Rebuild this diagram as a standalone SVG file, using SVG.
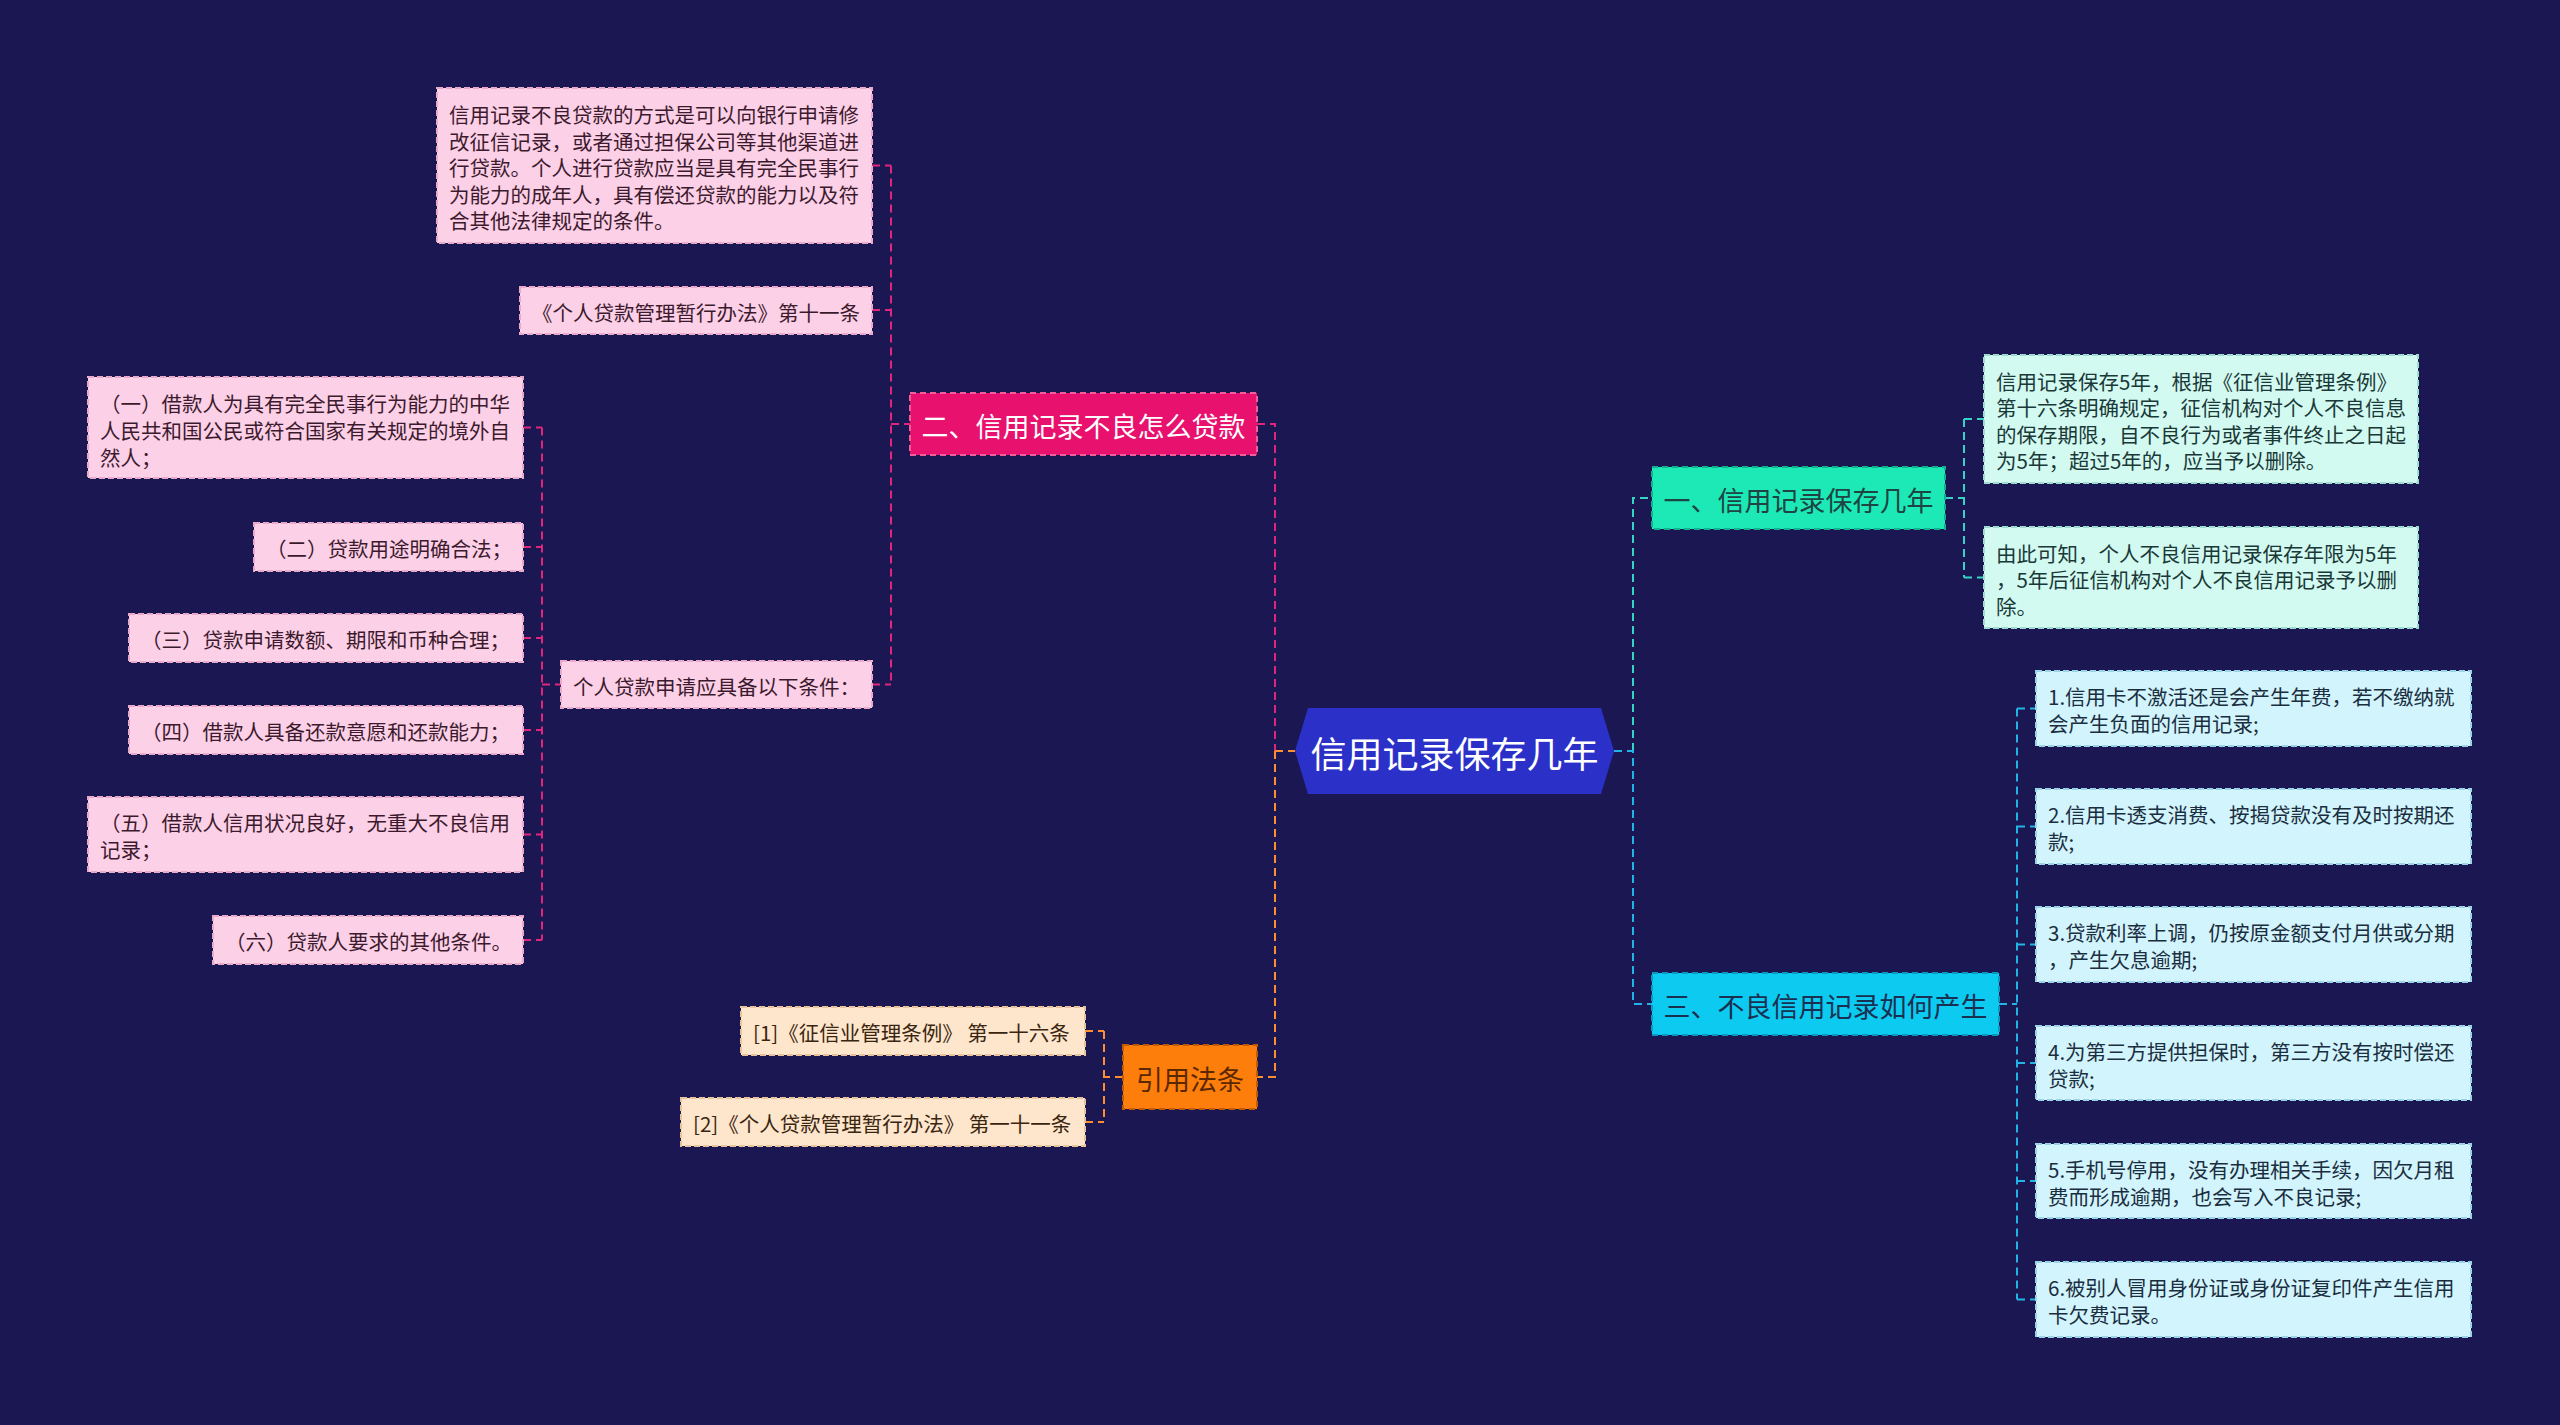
<svg xmlns="http://www.w3.org/2000/svg" width="2560" height="1425" viewBox="0 0 2560 1425">
<style>
text{font-family:"Noto Sans CJK SC","Noto Sans",sans-serif;dominant-baseline:central}
.lf{font-size:20.5px}
.l1{font-size:27px;text-anchor:middle}
.c{fill:none;stroke-width:2;stroke-dasharray:8 5}
.pk{stroke:#e0267c}.og{stroke:#ff8f2e}.tl{stroke:#36d4c4}.bl{stroke:#22b4e6}
.pl rect{fill:#fcd0e6;stroke:#e9a9c9;stroke-width:2;stroke-dasharray:6 3}
.pl text{fill:#3c1a2e}
.ol rect{fill:#fde6cc;stroke:#e8c29a;stroke-width:2;stroke-dasharray:6 3}
.ol text{fill:#3a2510}
.tlf rect{fill:#d2faf0;stroke:#9fdcd0;stroke-width:2;stroke-dasharray:6 3}
.tlf text{fill:#1a3838}
.blf rect{fill:#d2f4fc;stroke:#9ad2e6;stroke-width:2;stroke-dasharray:6 3}
.blf text{fill:#1a2e40}
</style>
<rect width="2560" height="1425" fill="#1a1752"/>
<g id="connectors">
<path class="c pk" d="M523 427.5H542M523 547H542M523 638H542M523 730H542M523 834.5H542M523 940H542M542 427.5V940M542 684.5H561"/>
<path class="c pk" d="M872 165.5H891M872 310H891M872 684.5H891M891 165.5V684.5M891 424H910"/>
<path class="c pk" d="M1257 424H1275V751"/>
<path class="c og" d="M1275 751V1077H1257M1275 751H1295"/>
<path class="c og" d="M1123 1077H1104M1104 1031V1122M1085 1031H1104M1085 1122H1104"/>
<path class="c tl" d="M1633 751V498H1652"/>
<path class="c bl" d="M1614 751H1633V1004H1652"/>
<path class="c tl" d="M1945 498H1964M1964 419V577.5M1964 419H1984M1964 577.5H1984"/>
<path class="c bl" d="M1999 1004H2017M2017 708.5V1299.5M2017 708.5H2036M2017 826.5H2036M2017 944.5H2036M2017 1063H2036M2017 1181H2036M2017 1299.5H2036"/>
</g>
<g id="root">
<polygon points="1295,751 1308,708 1601,708 1614,751 1601,794 1308,794" fill="#2b31c8"/>
<text x="1454.5" y="752" font-size="36" fill="#ffffff" text-anchor="middle">信用记录保存几年</text>
</g>
<g id="n2">
<rect x="910" y="393" width="347" height="62" fill="#e8116e" stroke="#f25d9c" stroke-width="2" stroke-dasharray="6 4"/>
<text class="l1" x="1083.5" y="425" fill="#ffffff">二、信用记录不良怎么贷款</text>
</g>
<g id="n1">
<rect x="1652" y="467" width="293" height="62" fill="#1de9b6" stroke="#12b08c" stroke-width="2" stroke-dasharray="6 4"/>
<text class="l1" x="1798.5" y="499" fill="#1e4444">一、信用记录保存几年</text>
</g>
<g id="n3">
<rect x="1652" y="973" width="347" height="62" fill="#0ccaf0" stroke="#0a98bf" stroke-width="2" stroke-dasharray="6 4"/>
<text class="l1" x="1825.5" y="1005" fill="#1a3050">三、不良信用记录如何产生</text>
</g>
<g id="n4">
<rect x="1123" y="1045" width="134" height="64" fill="#fd7e0a" stroke="#c25a00" stroke-width="2" stroke-dasharray="6 4"/>
<text x="1190" y="1078" font-size="27" fill="#5a2800" text-anchor="middle">引用法条</text>
</g>
<g id="p-desc" class="pl lf">
<rect x="437" y="88" width="435" height="155"/>
<text class="lf" x="449" y="114">信用记录不良贷款的方式是可以向银行申请修</text>
<text class="lf" x="449" y="140.5">改征信记录，或者通过担保公司等其他渠道进</text>
<text class="lf" x="449" y="167">行贷款。个人进行贷款应当是具有完全民事行</text>
<text class="lf" x="449" y="193.5">为能力的成年人，具有偿还贷款的能力以及符</text>
<text class="lf" x="449" y="220">合其他法律规定的条件。</text>
</g>
<g id="p-law" class="pl">
<rect x="520" y="287" width="352" height="47"/>
<text class="lf" x="532" y="311.5">《个人贷款管理暂行办法》第十一条</text>
</g>
<g id="p-cond" class="pl">
<rect x="561" y="661" width="311" height="47"/>
<text class="lf" x="573" y="685.5">个人贷款申请应具备以下条件：</text>
</g>
<g id="p-c1" class="pl">
<rect x="88" y="377" width="435" height="101"/>
<text class="lf" x="100" y="403">（一）借款人为具有完全民事行为能力的中华</text>
<text class="lf" x="100" y="430">人民共和国公民或符合国家有关规定的境外自</text>
<text class="lf" x="100" y="457">然人；</text>
</g>
<g id="p-c2" class="pl">
<rect x="254" y="523" width="269" height="48"/>
<text class="lf" x="266" y="548">（二）贷款用途明确合法；</text>
</g>
<g id="p-c3" class="pl">
<rect x="129" y="614" width="394" height="48"/>
<text class="lf" x="141" y="639">（三）贷款申请数额、期限和币种合理；</text>
</g>
<g id="p-c4" class="pl">
<rect x="129" y="706" width="394" height="48"/>
<text class="lf" x="141" y="731">（四）借款人具备还款意愿和还款能力；</text>
</g>
<g id="p-c5" class="pl">
<rect x="88" y="797" width="435" height="75"/>
<text class="lf" x="100" y="822">（五）借款人信用状况良好，无重大不良信用</text>
<text class="lf" x="100" y="849">记录；</text>
</g>
<g id="p-c6" class="pl">
<rect x="213" y="916" width="310" height="48"/>
<text class="lf" x="225" y="941">（六）贷款人要求的其他条件。</text>
</g>
<g id="o-1" class="ol">
<rect x="741" y="1007" width="344" height="48"/>
<text class="lf" x="753" y="1032">[1]《征信业管理条例》 第一十六条</text>
</g>
<g id="o-2" class="ol">
<rect x="681" y="1098" width="404" height="48"/>
<text class="lf" x="693" y="1123">[2]《个人贷款管理暂行办法》 第一十一条</text>
</g>
<g id="t-1" class="tlf">
<rect x="1984" y="355" width="434" height="128"/>
<text class="lf" x="1996" y="380.5">信用记录保存5年，根据《征信业管理条例》</text>
<text class="lf" x="1996" y="407">第十六条明确规定，征信机构对个人不良信息</text>
<text class="lf" x="1996" y="433.5">的保存期限，自不良行为或者事件终止之日起</text>
<text class="lf" x="1996" y="460">为5年；超过5年的，应当予以删除。</text>
</g>
<g id="t-2" class="tlf">
<rect x="1984" y="527" width="434" height="101"/>
<text class="lf" x="1996" y="552.5">由此可知，个人不良信用记录保存年限为5年</text>
<text class="lf" x="1996" y="579">，5年后征信机构对个人不良信用记录予以删</text>
<text class="lf" x="1996" y="605.5">除。</text>
</g>
<g id="b-1" class="blf">
<rect x="2036" y="671" width="435" height="75"/>
<text class="lf" x="2048" y="696">1.信用卡不激活还是会产生年费，若不缴纳就</text>
<text class="lf" x="2048" y="723">会产生负面的信用记录;</text>
</g>
<g id="b-2" class="blf">
<rect x="2036" y="789" width="435" height="75"/>
<text class="lf" x="2048" y="814">2.信用卡透支消费、按揭贷款没有及时按期还</text>
<text class="lf" x="2048" y="841">款;</text>
</g>
<g id="b-3" class="blf">
<rect x="2036" y="907" width="435" height="75"/>
<text class="lf" x="2048" y="932">3.贷款利率上调，仍按原金额支付月供或分期</text>
<text class="lf" x="2048" y="959">，产生欠息逾期;</text>
</g>
<g id="b-4" class="blf">
<rect x="2036" y="1026" width="435" height="74"/>
<text class="lf" x="2048" y="1050.5">4.为第三方提供担保时，第三方没有按时偿还</text>
<text class="lf" x="2048" y="1077.5">贷款;</text>
</g>
<g id="b-5" class="blf">
<rect x="2036" y="1144" width="435" height="74"/>
<text class="lf" x="2048" y="1168.5">5.手机号停用，没有办理相关手续，因欠月租</text>
<text class="lf" x="2048" y="1195.5">费而形成逾期，也会写入不良记录;</text>
</g>
<g id="b-6" class="blf">
<rect x="2036" y="1262" width="435" height="75"/>
<text class="lf" x="2048" y="1287">6.被别人冒用身份证或身份证复印件产生信用</text>
<text class="lf" x="2048" y="1314">卡欠费记录。</text>
</g>
</svg>
